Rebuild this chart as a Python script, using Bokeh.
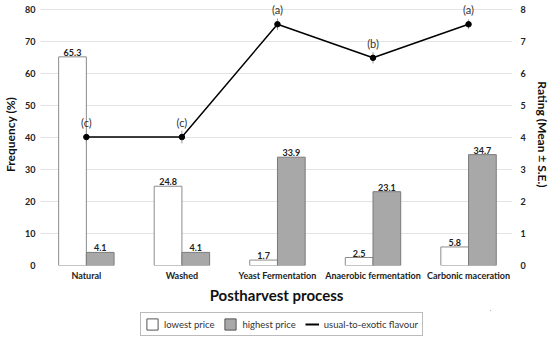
from bokeh.plotting import figure
from bokeh.layouts import column
from bokeh.models import ColumnDataSource, Range1d, LinearAxis, Legend, LegendItem, FixedTicker
from bokeh.core.properties import value
from bokeh.embed import file_html
from bokeh.resources import INLINE

categories = ["Natural", "Washed", "Yeast Fermentation", "Anaerobic fermentation", "Carbonic maceration"]
lowest_price = [65.3, 24.8, 1.7, 2.5, 5.8]
highest_price = [4.1, 4.1, 33.9, 23.1, 34.7]
rating_mean = [4.02, 4.02, 7.55, 6.5, 7.55]
rating_se = [0.2, 0.2, 0.18, 0.18, 0.15]
rating_letters = ["(c)", "(c)", "(a)", "(b)", "(a)"]
legend_labels = ["lowest price", "highest price", "usual-to-exotic flavour"]

FONT = "Lato"
LOW_FILL, LOW_LINE = "white", "#8c8c8c"
HIGH_FILL, HIGH_LINE = "#a8a8a8", "#7a7a7a"
xs = list(range(len(categories)))
bw = 0.29

p = figure(frame_width=472, frame_height=262, output_backend="svg", toolbar_location=None,
           x_range=Range1d(-0.48, 4.46), y_range=Range1d(0, 82),
           min_border_left=0, min_border_right=0, min_border_top=3, min_border_bottom=45)
p.extra_y_ranges = {"rating": Range1d(0, 8.2)}
p.outline_line_color = None
p.background_fill_color = "white"
p.border_fill_color = "white"

src = ColumnDataSource(dict(
    xl=[x - bw / 2 for x in xs], xh=[x + bw / 2 for x in xs],
    low=lowest_price, high=highest_price,
    lowt=[f"{v:.1f}" for v in lowest_price], hight=[f"{v:.1f}" for v in highest_price],
    x=xs, r=rating_mean, rlo=[m - s for m, s in zip(rating_mean, rating_se)],
    rhi=[m + s for m, s in zip(rating_mean, rating_se)],
    let=rating_letters, ly=[m + 0.45 for m in rating_mean]))

p.vbar(x="xl", top="low", width=bw, source=src, fill_color=LOW_FILL, line_color=LOW_LINE, line_width=1)
p.vbar(x="xh", top="high", width=bw, source=src, fill_color=HIGH_FILL, line_color=HIGH_LINE, line_width=1)

p.text(x="xl", y="low", text="lowt", source=src, text_align="center", text_baseline="bottom",
       y_offset=-1, text_font=value(FONT), text_font_size="9px", text_font_style="bold", text_color="#222222")
p.text(x="xh", y="high", text="hight", source=src, text_align="center", text_baseline="bottom",
       y_offset=-1, text_font=value(FONT), text_font_size="9px", text_font_style="bold", text_color="#222222")

p.segment(x0="x", y0="rlo", x1="x", y1="rhi", source=src, y_range_name="rating", line_color="#999999", line_width=1)
p.line(x="x", y="r", source=src, y_range_name="rating", line_color="black", line_width=1.5)
p.scatter(x="x", y="r", source=src, y_range_name="rating", size=5.5, fill_color="black", line_color="black")
p.text(x="x", y="ly", text="let", source=src, y_range_name="rating", text_align="center", text_baseline="middle",
       text_font=value(FONT), text_font_size="11px", text_color="#333333")

# axes
p.xaxis.ticker = FixedTicker(ticks=xs)
p.xaxis.major_label_overrides = {i: c for i, c in enumerate(categories)}
p.xaxis.axis_label = "Postharvest process"
p.yaxis.axis_label = "Frequency (%)"
p.yaxis.ticker = FixedTicker(ticks=[0, 10, 20, 30, 40, 50, 60, 70, 80])

ax2 = LinearAxis(y_range_name="rating", axis_label="Rating (Mean ± S.E.)",
                 ticker=FixedTicker(ticks=[0, 1, 2, 3, 4, 5, 6, 7, 8]))
p.add_layout(ax2, "right")

for ax in [p.xaxis[0], p.yaxis[0], ax2]:
    ax.axis_line_color = None
    ax.major_tick_line_color = None
    ax.minor_tick_line_color = None
    ax.major_tick_out = 0
    ax.major_tick_in = 0
    ax.minor_tick_out = 0
    ax.minor_tick_in = 0
    ax.major_label_text_font = FONT
    ax.major_label_text_font_style = "bold"
    ax.major_label_text_font_size = "9px"
    ax.major_label_text_color = "#222222"
    ax.axis_label_text_font = FONT
    ax.axis_label_text_font_style = "bold"
    ax.axis_label_text_color = "#111111"
    ax.major_label_standoff = 5
    ax.axis_label_standoff = 4
p.xaxis.axis_label_text_font_size = "15px"
p.xaxis.major_label_standoff = 4
p.xaxis.axis_label_standoff = 2
p.yaxis.axis_label_text_font_size = "12px"
ax2.axis_label_text_font_size = "12px"
ax2.major_label_standoff = 8
ax2.axis_label_standoff = 6

p.xgrid.grid_line_color = None
p.ygrid.grid_line_color = "#e3e3e3"
p.ygrid.ticker = FixedTicker(ticks=[0, 10, 20, 30, 40, 50, 60, 70, 80])

# legend in a slim companion figure
lf = figure(width=530, height=28, output_backend="svg", toolbar_location=None,
            x_range=Range1d(0, 1), y_range=Range1d(0, 1),
            min_border_left=0, min_border_right=0, min_border_top=0, min_border_bottom=0)
lf.axis.visible = False
lf.grid.grid_line_color = None
lf.outline_line_color = None
lg_low = lf.vbar(x=[5], top=[5], bottom=[4], width=0.1, fill_color=LOW_FILL, line_color="#555555")
lg_high = lf.vbar(x=[5], top=[5], bottom=[4], width=0.1, fill_color=HIGH_FILL, line_color="#555555")
lg_line = lf.line(x=[5, 6], y=[5, 5], line_color="black", line_width=2)
legend = Legend(items=[LegendItem(label=legend_labels[0], renderers=[lg_low]),
                       LegendItem(label=legend_labels[1], renderers=[lg_high]),
                       LegendItem(label=legend_labels[2], renderers=[lg_line])],
                orientation="horizontal", location=(100, 2),
                label_text_font=FONT, label_text_font_size="9.5px", label_text_color="#333333",
                border_line_color="#777777", border_line_width=1,
                glyph_width=14, glyph_height=14, label_standoff=5, spacing=9,
                padding=4, margin=0, label_height=14)
lf.add_layout(legend, "center")

open("out.html", "w").write(file_html(column(p, lf, spacing=0), INLINE))
